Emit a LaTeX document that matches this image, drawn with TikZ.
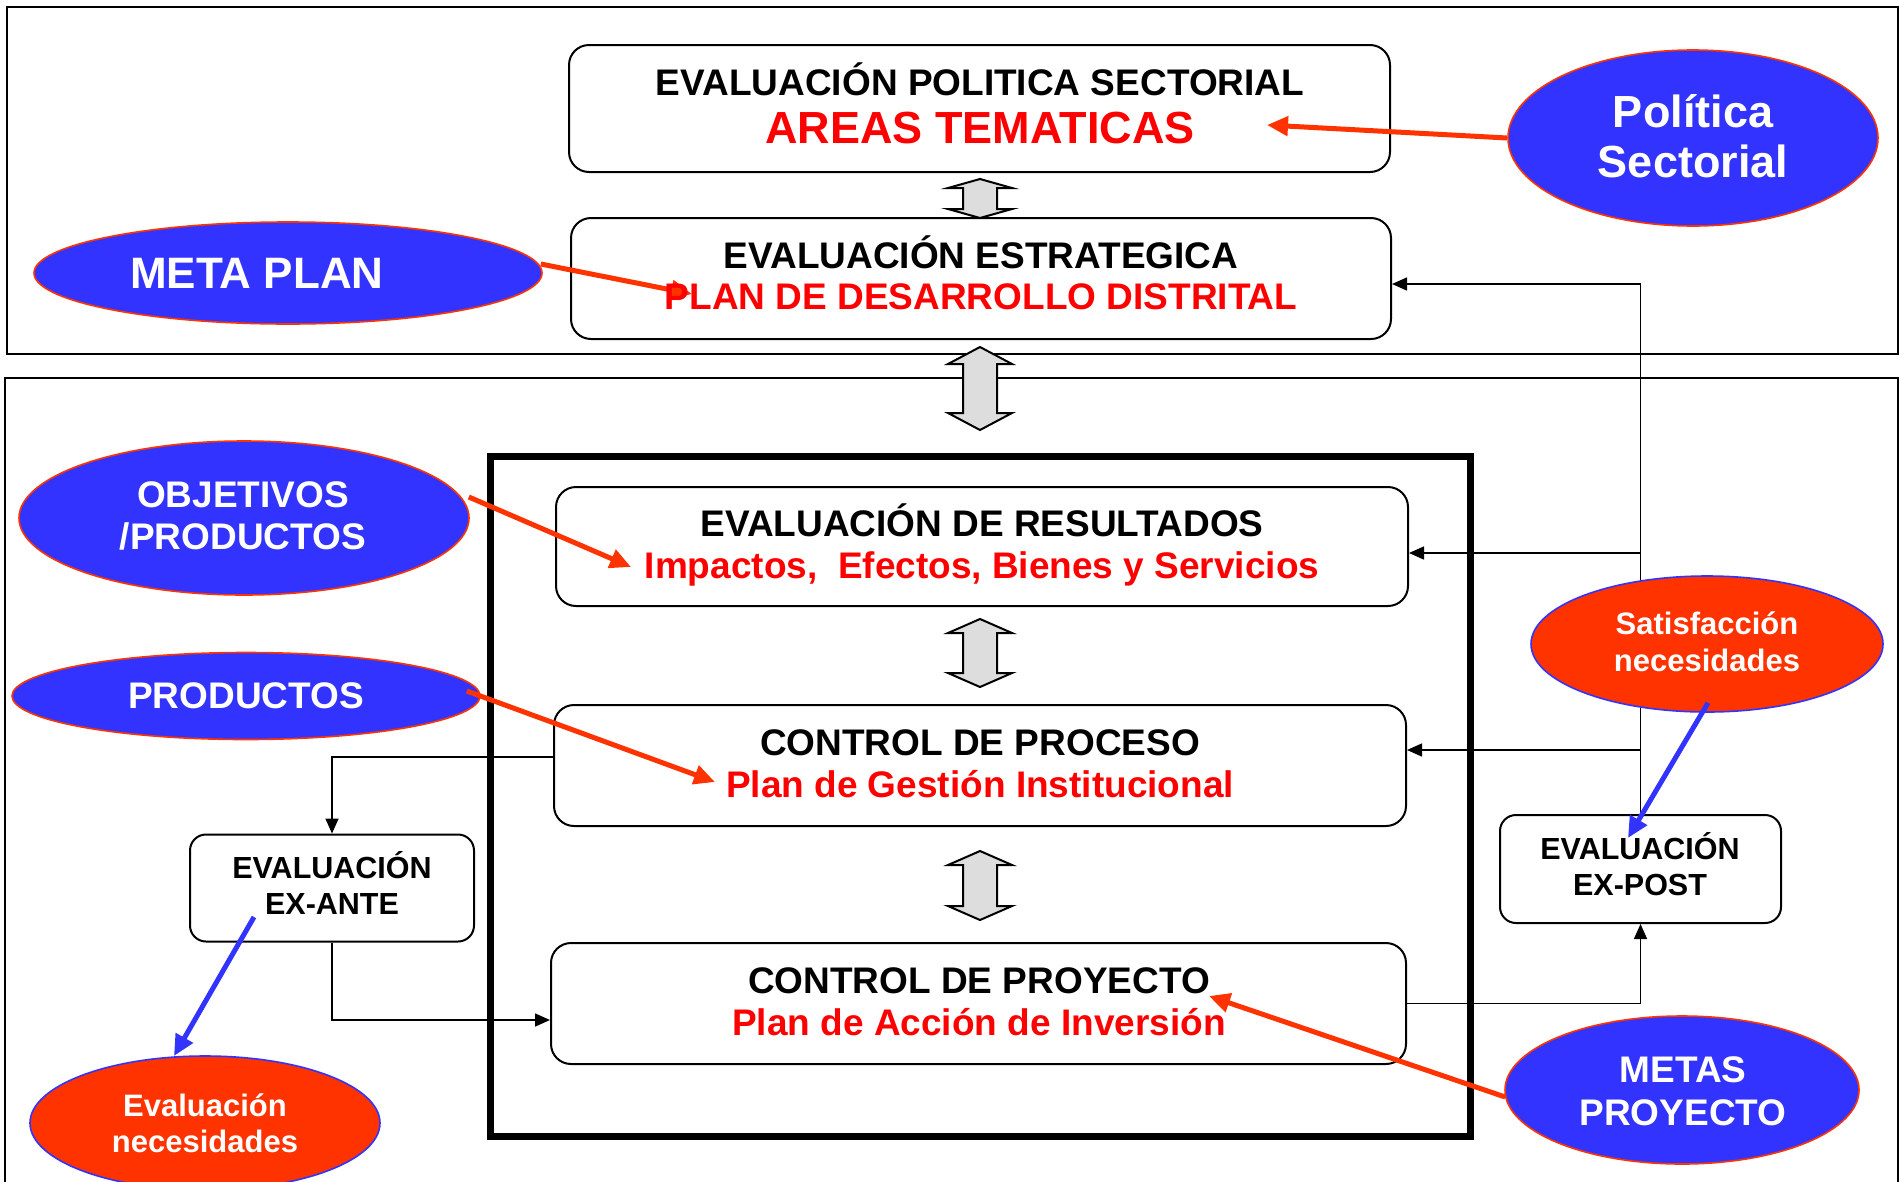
\documentclass[tikz,border=0pt]{standalone}
\usepackage{fontspec}
\setmainfont{Liberation Sans}
\usetikzlibrary{shapes.geometric,arrows.meta,calc}
\definecolor{eblue}{HTML}{3333FF}
\definecolor{ered}{HTML}{FF3300}
\definecolor{tred}{HTML}{FF0000}
\definecolor{agray}{HTML}{DDDDDD}
\newcommand\dblarr[4]{%
  \filldraw[fill=agray,draw=black,line width=2pt,line join=miter]
  (#1,#2) -- (#1+32,#2+#4) -- (#1+17,#2+#4) -- (#1+17,#3-#4) -- (#1+32,#3-#4) -- (#1,#3)
  -- (#1-32,#3-#4) -- (#1-17,#3-#4) -- (#1-17,#2+#4) -- (#1-32,#2+#4) -- cycle;}
\newcommand\fs[1]{\fontsize{#1}{#1}\selectfont\bfseries}
\begin{document}
\begin{tikzpicture}[x=1pt,y=-1pt,
  frame/.style={draw=black,line width=2pt},
  box/.style={draw=black,line width=2pt,rounded corners=20pt,inner sep=0pt,fill=white},
  exbox/.style={draw=black,line width=2pt,rounded corners=16pt,inner sep=0pt,fill=white},
  bell/.style={ellipse,draw=ered,line width=1.6pt,fill=eblue,inner sep=0pt},
  rell/.style={ellipse,draw=eblue,line width=1.6pt,fill=ered,inner sep=0pt},
  txt/.style={anchor=base,inner sep=0pt},
  conn/.style={draw=black,line width=1.6pt,-{Triangle[length=15pt,width=13pt]}},
  redarr/.style={draw=ered,line width=5pt,-{Triangle[length=21pt,width=19pt]}},
  bluearr/.style={draw=eblue,line width=5pt,-{Triangle[length=21pt,width=19pt]}}]
\useasboundingbox (0,0) rectangle (1900,1181);
\clip (0,0) rectangle (1900,1181);
\fill[white] (0,0) rectangle (1900,1181);

% frames
\draw[frame] (7,7) rectangle (1898,354);
\draw[frame] (5,378) rectangle (1898,1220);
\draw[draw=black,line width=7pt] (490,456) rectangle (1470,1136);

% boxes
\node[box,minimum width=821,minimum height=127] (b1) at (979.5,108.5) {};
\node[box,minimum width=820,minimum height=121] (b2) at (981,278.5) {};
\node[box,minimum width=852,minimum height=119] (b3) at (982,546.5) {};
\node[box,minimum width=852,minimum height=121] (b4) at (980,765.5) {};
\node[box,minimum width=855,minimum height=121] (b5) at (978.5,1003.5) {};
\node[exbox,minimum width=284,minimum height=107] (exante) at (332,888) {};
\node[exbox,minimum width=281,minimum height=108] (expost) at (1640.5,869) {};

% double arrows
\dblarr{980}{179}{218}{9}
\dblarr{980}{347}{430}{17}
\dblarr{980}{619}{687}{14}
\dblarr{980}{851}{920}{14}

% black connectors
\coordinate (b2in) at ($(b2.east)+(0,5.5)$);
\coordinate (b3in) at ($(b3.east)+(0,6.5)$);
\coordinate (b4in) at ($(b4.east)+(0,-15.5)$);
\coordinate (b4out) at ($(b4.west)+(0,-8.5)$);
\coordinate (b5in) at ($(b5.west)+(0,16.5)$);
\draw[conn] (expost.north) |- (b2in);
\draw[conn] (expost.north |- b3in) -- (b3in);
\draw[conn] (expost.north |- b4in) -- (b4in);
\draw[conn] (b5.east) -| (expost.south);
\draw[conn] (b4out) -| (exante.north);
\draw[conn] (exante.south) |- (b5in);

% ellipses
\node[bell,minimum width=370,minimum height=176] (pol) at (1693,138) {};
\node[bell,minimum width=508,minimum height=102] (mp) at (288,273) {};
\node[bell,minimum width=450,minimum height=154] (obj) at (244,518) {};
\node[bell,minimum width=468,minimum height=87] (prod) at (246,696) {};
\node[bell,minimum width=354,minimum height=148] (metas) at (1682,1090) {};
\node[rell,minimum width=352,minimum height=136] (sat) at (1707,644) {};
\node[rell,minimum width=350,minimum height=134] (evn) at (205,1123) {};

% coloured connectors
\coordinate (polTip) at (1267,125);
\coordinate (mpTip) at (692,294);
\coordinate (objTip) at (631,567);
\coordinate (prodTip) at (715,782);
\coordinate (metasTip) at (1209,996);
\coordinate (satTip) at (1628,838);
\coordinate (evnTip) at (174,1056);
\draw[redarr] (pol.west) -- (polTip);
\draw[redarr] ($(mp.east)+(-2,-9)$) -- (mpTip);
\draw[redarr] ($(obj.east)+(-1,-21)$) -- (objTip);
\draw[redarr] ($(prod.east)+(-14,-5)$) -- (prodTip);
\draw[redarr] ($(metas.west)+(1,7)$) -- (metasTip);
\draw[bluearr] ($(sat.south)+(1,-10)$) -- (satTip);
\draw[bluearr] ($(exante.center)+(-78,29)$) -- (evnTip);

% box texts
\node[txt,font=\fs{37}] (t1a) at (980,95) {EVALUACIÓN POLITICA SECTORIAL};
\node[txt,font=\fs{45},text=tred] (t1b) at (980,143) {AREAS TEMATICAS};
\node[txt,font=\fs{37}] (t2a) at (981,268) {EVALUACIÓN ESTRATEGICA};
\node[txt,font=\fs{37},text=tred] (t2b) at (981,309) {PLAN DE DESARROLLO DISTRITAL};
\node[txt,font=\fs{37}] (t3a) at (982,536) {EVALUACIÓN DE RESULTADOS};
\node[txt,font=\fs{37},text=tred] (t3b) at (982,578) {Impactos,\ \ Efectos, Bienes y Servicios};
\node[txt,font=\fs{37}] (t4a) at (980,755) {CONTROL DE PROCESO};
\node[txt,font=\fs{37},text=tred] (t4b) at (980,797) {Plan de Gestión Institucional};
\node[txt,font=\fs{37}] (t5a) at (979,993) {CONTROL DE PROYECTO};
\node[txt,font=\fs{37},text=tred] (t5b) at (979,1035) {Plan de Acción de Inversión};
\node[txt,font=\fs{30.5}] (tea) at (332,878) {EVALUACIÓN};
\node[txt,font=\fs{30.5}] (teb) at (332,914) {EX-ANTE};
\node[txt,font=\fs{30.5}] (tpa) at (1640,859) {EVALUACIÓN};
\node[txt,font=\fs{30.5}] (tpb) at (1640,895) {EX-POST};

% ellipse texts
\node[txt,font=\fs{45},text=white] (tpol1) at (1693,127) {Política};
\node[txt,font=\fs{45},text=white] (tpol2) at (1693,177) {Sectorial};
\node[txt,font=\fs{44},text=white] (tmp) at (257,288) {META PLAN};
\node[txt,font=\fs{37},text=white] (tobj1) at (243,507) {OBJETIVOS};
\node[txt,font=\fs{37},text=white] (tobj2) at (243,549) {/PRODUCTOS};
\node[txt,font=\fs{37},text=white] (tprod) at (246,708) {PRODUCTOS};
\node[txt,font=\fs{31},text=white] (tsat1) at (1707,634) {Satisfacción};
\node[txt,font=\fs{31},text=white] (tsat2) at (1707,671) {necesidades};
\node[txt,font=\fs{31},text=white] (tevn1) at (205,1116) {Evaluación};
\node[txt,font=\fs{31},text=white] (tevn2) at (205,1152) {necesidades};
\node[txt,font=\fs{37},text=white] (tmet1) at (1683,1082) {METAS};
\node[txt,font=\fs{37},text=white] (tmet2) at (1683,1125) {PROYECTO};
\end{tikzpicture}
\end{document}
